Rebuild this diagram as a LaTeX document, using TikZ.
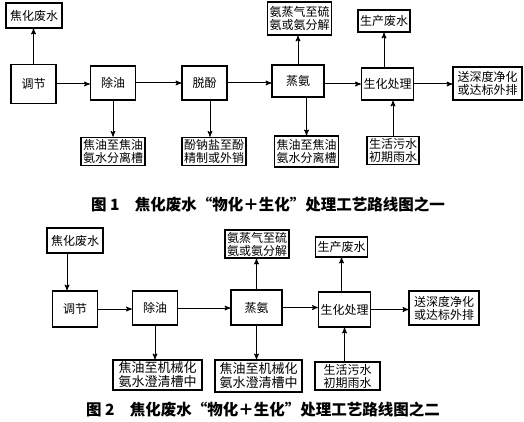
\documentclass[tikz,border=0pt]{standalone}
\usepackage{fontspec}
\setmainfont{Noto Sans CJK SC}
\usetikzlibrary{arrows}

\begin{document}
\begin{tikzpicture}[x=1pt,y=-1pt,>=stealth',line width=1pt]
  \tikzset{box/.style={draw,line width=1.5pt,inner xsep=2pt,inner ysep=2pt,align=center,font=\fontsize{12}{13}\selectfont},
           stepbox/.style={box,minimum width=45pt,minimum height=34pt},
           caption/.style={font=\fontsize{15.5}{17}\selectfont\bfseries}}
  \useasboundingbox (0,0) rectangle (524,422);
  % figure 1
  \node[box,minimum height=25pt,inner xsep=4pt] (fs1) at (34, 15.5) {焦化废水};
  \node[stepbox,minimum height=39pt] (tj1) at (33.5, 84) {调节};
  \node[stepbox] (cy1) at (113, 83) {除油};
  \node[stepbox] (tf1) at (204.5, 83) {脱酚};
  \node[stepbox,minimum width=52pt,minimum height=32pt] (za1) at (298, 81) {蒸氨};
  \node[stepbox,minimum height=32pt] (sh1) at (387.5, 84) {生化处理};
  \node[box,minimum width=69pt,minimum height=33pt] (out1) at (487.5, 83.5) {送深度净化\\或达标外排};
  \node[box] (jy1) at (113, 151.5) {焦油至焦油\\氨水分离槽};
  \node[box] (fn1) at (214, 151.5) {酚钠盐至酚\\精制或外销};
  \node[box,minimum height=31pt] (jy1b) at (306.5, 151.5) {焦油至焦油\\氨水分离槽};
  \node[box,minimum height=33pt] (aq1) at (299.5, 18.5) {氨蒸气至硫\\氨或氨分解};
  \node[box,minimum height=22pt] (sc1) at (384, 21) {生产废水};
  \node[box] (shw1) at (393, 150.5) {生活污水\\初期雨水};
  \node[caption] (cap1) at (268, 205) {图 1\quad 焦化废水“物化＋生化”处理工艺路线图之一};

  \path[->] (tj1) edge (tj1 |- fs1.south);
  \path[->] (tj1) edge (tj1 -| cy1.west);
  \path[->] (cy1) edge (tf1);
  \path[->] (tf1) edge (tf1 -| za1.west);
  \path[->] (za1.east |- sh1) edge (sh1);
  \path[->] (sh1) edge (sh1 -| out1.west);
  \path[->] (cy1) edge (jy1);
  \path[->] ([xshift=5.5pt]tf1.south) edge ([xshift=5.5pt]tf1.south |- fn1.north);
  \path[->] (za1) edge (za1 |- aq1.south);
  \path[->] (za1.south -| jy1b) edge (jy1b);
  \path[->] (sh1.north -| sc1) edge (sc1);
  \path[->] (shw1) edge (shw1 |- sh1.south);

  % figure 2
  \node[box,minimum width=56pt,minimum height=25pt] (fs2) at (75, 240.5) {焦化废水};
  \node[stepbox,minimum height=36pt] (tj2) at (75, 309) {调节};
  \node[stepbox] (cy2) at (155, 308) {除油};
  \node[stepbox,minimum width=51pt,minimum height=35pt] (za2) at (256.5, 307.5) {蒸氨};
  \node[stepbox,minimum height=35pt] (sh2) at (344.5, 309.5) {生化处理};
  \node[box,minimum width=70pt,minimum height=34pt] (out2) at (444, 308) {送深度净化\\或达标外排};
  \node[box,minimum width=64pt,minimum height=28pt] (aq2) at (257, 244) {氨蒸气至硫\\氨或氨分解};
  \node[box,minimum height=20pt] (sc2) at (341.5, 247) {生产废水};
  \node[box,minimum width=89pt,minimum height=30pt,font=\fontsize{13}{14}\selectfont] (jx2a) at (157.5, 375) {焦油至机械化\\氨水澄清槽中};
  \node[box,minimum width=87pt,minimum height=32pt,font=\fontsize{13}{14}\selectfont] (jx2b) at (258.5, 376) {焦油至机械化\\氨水澄清槽中};
  \node[box,minimum width=65pt,minimum height=28pt] (shw2) at (347.5, 376) {生活污水\\初期雨水};
  \node[caption] (cap2) at (263, 410) {图 2\quad 焦化废水“物化＋生化”处理工艺路线图之二};

  \path[->] ([xshift=-8pt]fs2.south) edge ([xshift=-8pt]fs2.south |- tj2.north);
  \path[->] (tj2) edge (tj2 -| cy2.west);
  \path[->] (cy2) edge (cy2 -| za2.west);
  \path[->] (za2) edge (za2 -| sh2.west);
  \path[->] (sh2) edge (sh2 -| out2.west);
  \path[->] (cy2) edge (cy2 |- jx2a.north);
  \path[->] (za2) edge (za2 |- aq2.south);
  \path[->] (za2) edge (za2 |- jx2b.north);
  \path[->] (sh2.north -| sc2) edge (sc2);
  \path[->] (shw2.north -| sh2) edge (sh2);
\end{tikzpicture}
\end{document}
